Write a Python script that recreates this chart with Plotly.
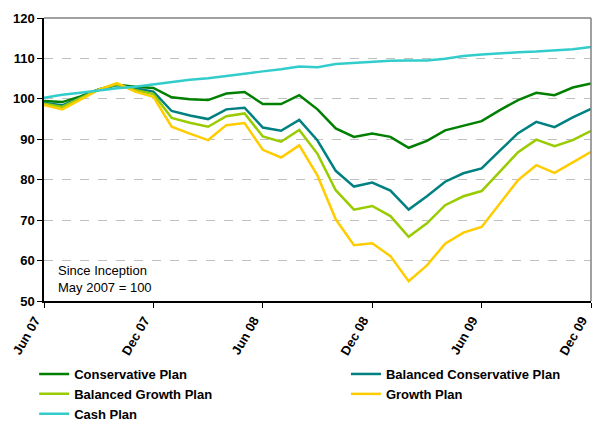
import plotly.graph_objects as go

months = ["Jun 07", "Jul 07", "Aug 07", "Sep 07", "Oct 07", "Nov 07", "Dec 07",
          "Jan 08", "Feb 08", "Mar 08", "Apr 08", "May 08", "Jun 08", "Jul 08",
          "Aug 08", "Sep 08", "Oct 08", "Nov 08", "Dec 08", "Jan 09", "Feb 09",
          "Mar 09", "Apr 09", "May 09", "Jun 09", "Jul 09", "Aug 09", "Sep 09",
          "Oct 09", "Nov 09", "Dec 09"]

conservative = [99.5, 99.2, 100.6, 102.3, 103.5, 103.0, 102.7, 100.4, 99.9, 99.7,
                101.3, 101.7, 98.7, 98.7, 100.9, 97.4, 92.7, 90.6, 91.4, 90.6,
                87.9, 89.6, 92.2, 93.4, 94.5, 97.2, 99.7, 101.5, 100.9, 102.8, 103.8]

balanced_conservative = [99.0, 98.4, 100.3, 102.3, 103.4, 102.6, 101.8, 97.0, 95.9, 95.0,
                         97.4, 97.8, 92.9, 92.1, 94.8, 89.7, 82.2, 78.3, 79.3, 77.3,
                         72.6, 75.9, 79.5, 81.6, 82.8, 87.2, 91.5, 94.3, 93.0, 95.4, 97.5]

balanced_growth = [98.8, 98.0, 100.2, 102.3, 103.6, 102.2, 101.2, 95.3, 94.1, 93.1,
                   95.7, 96.4, 90.7, 89.4, 92.3, 86.4, 77.4, 72.6, 73.5, 71.0,
                   65.9, 69.2, 73.7, 75.9, 77.2, 82.0, 86.8, 89.9, 88.3, 89.8, 92.1]

growth = [98.5, 97.4, 99.8, 102.3, 103.9, 101.8, 100.5, 93.1, 91.4, 89.8,
          93.5, 94.0, 87.4, 85.5, 88.5, 81.0, 70.2, 63.8, 64.3, 61.1,
          54.9, 58.8, 64.2, 66.9, 68.3, 74.0, 79.9, 83.6, 81.7, 84.3, 86.9]

cash = [100.3, 101.0, 101.5, 102.1, 102.6, 103.0, 103.6, 104.2, 104.7, 105.1,
        105.6, 106.2, 106.8, 107.3, 108.0, 107.8, 108.6, 108.9, 109.1, 109.4,
        109.5, 109.5, 109.9, 110.6, 111.0, 111.3, 111.5, 111.7, 112.0, 112.3, 112.8]

tick_labels = ["Jun 07", "Dec 07", "Jun 08", "Dec 08", "Jun 09", "Dec 09"]

# (name, values, colour, legend column)
series = [
    ("Conservative Plan", conservative, "#008000", "legend"),
    ("Balanced Conservative Plan", balanced_conservative, "#008080", "legend2"),
    ("Balanced Growth Plan", balanced_growth, "#99CC00", "legend"),
    ("Growth Plan", growth, "#FFCC00", "legend2"),
    ("Cash Plan", cash, "#33CCCC", "legend"),
]

FONT = "Arial, 'Liberation Sans', sans-serif"
LEGEND_FONT = dict(family=FONT, size=13, color="black", weight="bold")

fig = go.Figure()
for name, vals, color, lg in series:
    fig.add_trace(go.Scatter(x=months, y=vals, name=name, mode="lines", legend=lg,
                             line=dict(color=color, width=2.5)))

fig.update_layout(
    width=592, height=421, autosize=False,
    margin=dict(l=44, r=1, t=18, b=120, autoexpand=False),
    paper_bgcolor="white", plot_bgcolor="white",
    font=dict(family=FONT, size=13, color="black"),
    showlegend=True,
    legend=dict(orientation="v", x=-0.018, xanchor="left", y=-0.205, yanchor="top",
                font=LEGEND_FONT, bgcolor="rgba(0,0,0,0)", tracegroupgap=0),
    legend2=dict(orientation="v", x=0.552, xanchor="left", y=-0.205, yanchor="top",
                 font=LEGEND_FONT, bgcolor="rgba(0,0,0,0)", tracegroupgap=0),
    xaxis=dict(type="category", range=[0, 30], tickmode="array",
               tickvals=tick_labels, ticktext=tick_labels, tickangle=-60,
               ticklabelshift=-9,
               ticks="outside", ticklen=5, tickcolor="black",
               showline=True, linecolor="black", linewidth=1.5,
               showgrid=False, zeroline=False,
               tickfont=dict(family=FONT, size=13, color="black", weight="bold")),
    yaxis=dict(range=[50, 120], dtick=10, ticks="outside", ticklen=5, tickcolor="black",
               showline=True, linecolor="black", linewidth=1.5,
               showgrid=True, gridcolor="#C0C0C0", griddash="dash", gridwidth=1,
               zeroline=False,
               tickfont=dict(family=FONT, size=13, color="black", weight="bold")),
    shapes=[
        dict(type="line", xref="paper", yref="paper", x0=0, x1=1, y0=1, y1=1,
             line=dict(color="#808080", width=1.5), layer="above"),
        dict(type="line", xref="paper", yref="paper", x0=1, x1=1, y0=0, y1=1,
             line=dict(color="#808080", width=1.5), layer="above"),
    ],
    annotations=[
        dict(text="Since Inception<br>May 2007 = 100", xref="paper", yref="paper",
             x=0.022, y=0.0795, xanchor="left", yanchor="middle", align="left",
             showarrow=False, font=dict(family=FONT, size=13, color="black")),
    ],
)

fig.write_html("out.html")
